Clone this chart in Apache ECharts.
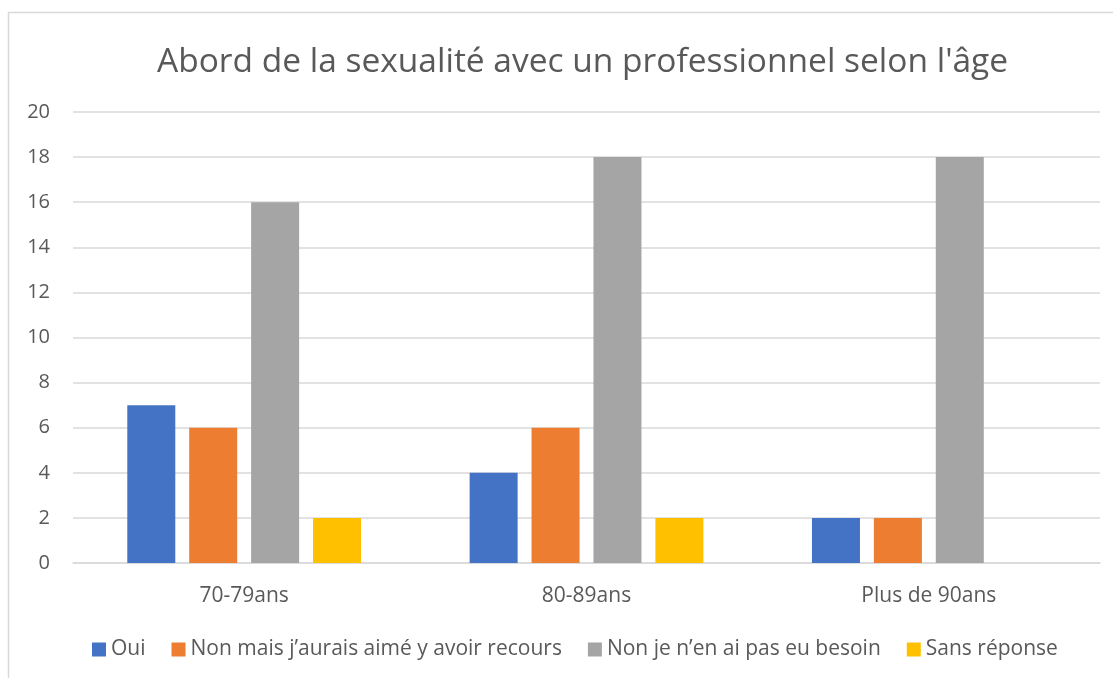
<!DOCTYPE html>
<html><head><meta charset="utf-8">
<script src="https://cdn.jsdelivr.net/npm/echarts@6/dist/echarts.min.js"></script>
<style>html,body{margin:0;padding:0;background:#fff}#c{width:1113px;height:678px}</style>
</head><body><div id="c"></div>
<script>
const categories = ['70-79ans', '80-89ans', 'Plus de 90ans'];
const seriesNames = ['Oui', 'Non mais j’aurais aimé y avoir recours', 'Non je n’en ai pas eu besoin', 'Sans réponse'];
const oui = [7, 4, 2];
const nonMais = [6, 6, 2];
const nonBesoin = [16, 18, 18];
const sansReponse = [2, 2, 0];
const yTicks = {min: 0, max: 20, interval: 2};
const colors = ['#4472C4', '#ED7D31', '#A5A5A5', '#FFC000'];
const values = [oui, nonMais, nonBesoin, sansReponse];
const FONT = 'Open Sans';
const chart = echarts.init(document.getElementById('c'));
chart.setOption({
  animation: false,
  textStyle: {fontFamily: FONT},
  graphic: [{type: 'rect', shape: {x: 8.5, y: 12.5, width: 1200, height: 800}, style: {fill: 'none', stroke: '#D9D9D9', lineWidth: 1.5}, silent: true}],
  title: {text: 'Abord de la sexualité avec un professionnel selon l\'âge', left: 152, top: 40,
    textStyle: {fontFamily: FONT, fontSize: 33.5, fontWeight: 'normal', color: '#595959'}},
  legend: {bottom: 13, left: 87, itemWidth: 14, itemHeight: 14, itemGap: 26,
    icon: 'rect', textStyle: {fontFamily: FONT, fontSize: 21, color: '#595959'}, data: seriesNames},
  grid: {left: 73, right: 13, top: 112, bottom: 115, containLabel: false},
  xAxis: {type: 'category', data: categories,
    axisLine: {lineStyle: {color: '#D9D9D9', width: 1.5}}, axisTick: {show: false},
    axisLabel: {fontFamily: FONT, fontSize: 21, color: '#595959', margin: 23}},
  yAxis: {type: 'value', min: yTicks.min, max: yTicks.max, interval: yTicks.interval,
    axisLine: {show: false}, axisTick: {show: false},
    splitLine: {lineStyle: {color: '#D9D9D9', width: 1.5}},
    axisLabel: {fontFamily: FONT, fontSize: 20, color: '#595959', margin: 23}},
  series: seriesNames.map((n, i) => ({name: n, type: 'bar', data: values[i], barWidth: 48, barGap: '29%',
    itemStyle: {color: colors[i]}}))
});
</script></body></html>
